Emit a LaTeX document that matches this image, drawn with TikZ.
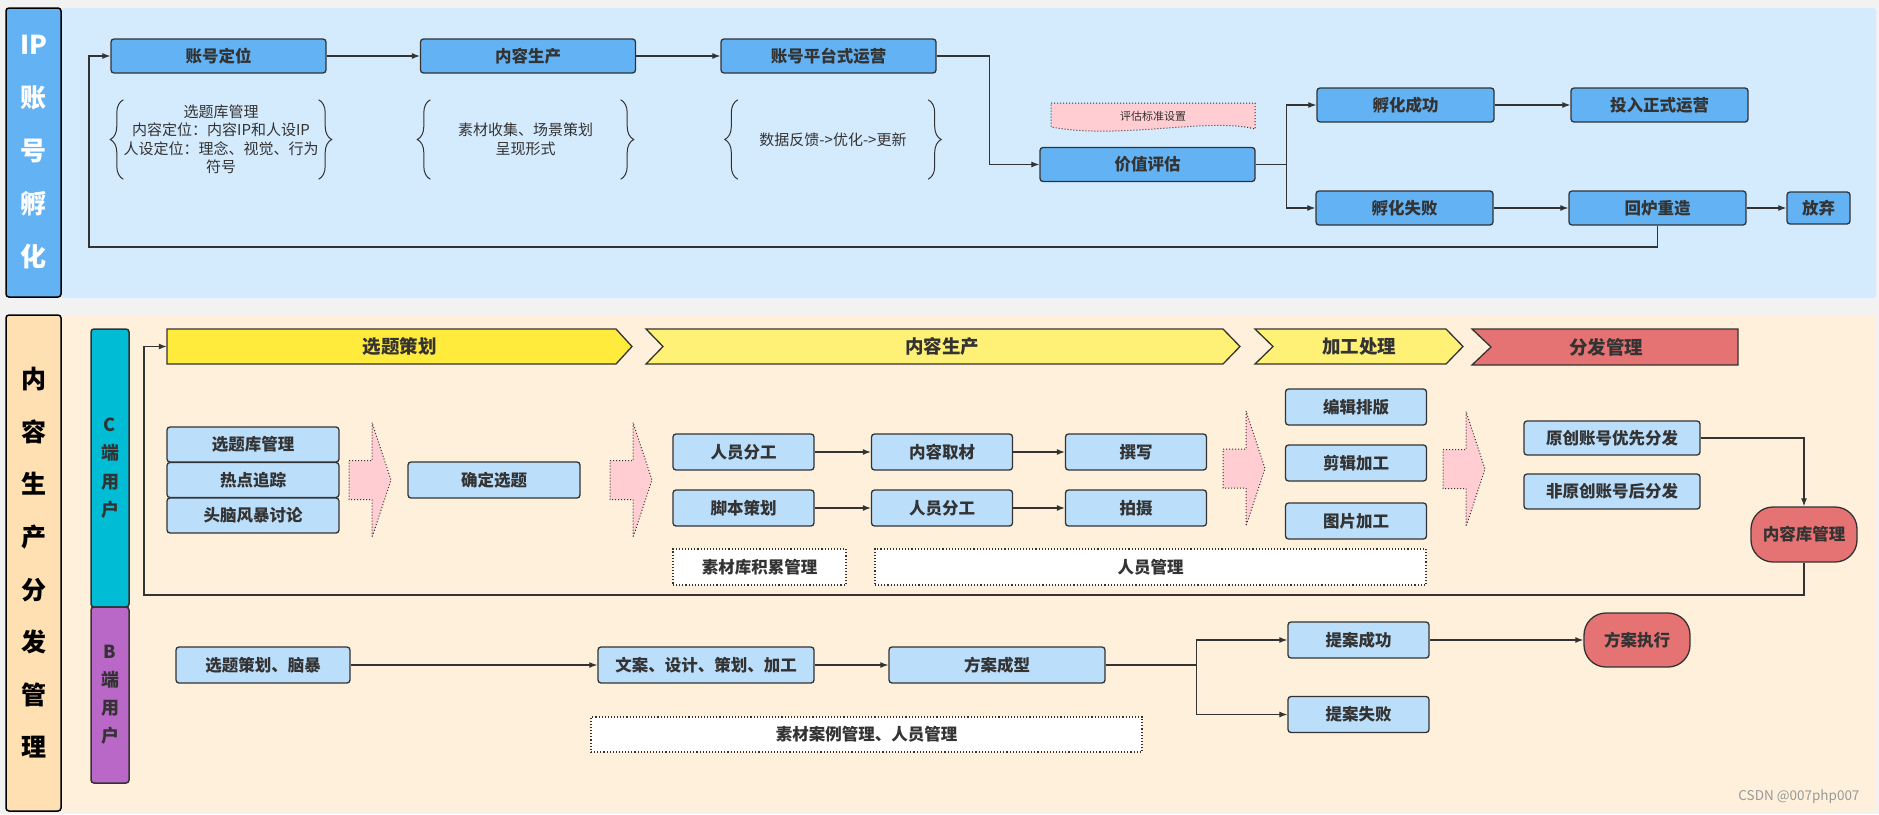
\documentclass[tikz,border=0pt]{standalone}
\usepackage{fontspec}
\setmainfont{Noto Sans CJK SC}
\usetikzlibrary{arrows.meta, decorations.pathreplacing}

\definecolor{pagebg}{HTML}{F2F2F2}
\definecolor{ippanel}{HTML}{D4EAFD}
\definecolor{ipblue}{HTML}{63B3F4}
\definecolor{nrpanel}{HTML}{FFF0DB}
\definecolor{nrlabel}{HTML}{FFE0B2}
\definecolor{boxblue}{HTML}{BBDEFB}
\definecolor{cteal}{HTML}{00BCD4}
\definecolor{bpurple}{HTML}{BA68C8}
\definecolor{yelA}{HTML}{FFEB3B}
\definecolor{yelB}{HTML}{FFF176}
\definecolor{redfill}{HTML}{E57373}
\definecolor{pinkfill}{HTML}{FFCDD2}
\definecolor{txt}{HTML}{333333}
\definecolor{edge}{HTML}{333333}

\tikzset{
    every node/.style={text=txt},
    ipbox/.style={draw=edge, line width=1.3pt, fill=ipblue, rounded corners=3pt, inner sep=0pt,
        minimum width=215pt, minimum height=34pt, font=\bfseries\fontsize{16.5}{18}\selectfont},
    cbox/.style={draw=edge, line width=1.3pt, fill=boxblue, rounded corners=3pt, inner sep=0pt,
        minimum width=141pt, minimum height=36pt, font=\bfseries\fontsize{16.5}{18}\selectfont},
    dotbox/.style={draw=edge, dotted, line width=1.1pt, fill=white, inner sep=0pt,
        minimum height=36pt, font=\bfseries\fontsize{16.5}{18}\selectfont},
    redbox/.style={draw=edge, line width=1.3pt, fill=redfill, rounded corners=22pt, inner sep=0pt,
        minimum width=106pt, minimum height=55pt, font=\bfseries\fontsize{16.5}{18}\selectfont},
    bracetxt/.style={align=center, inner sep=0pt, minimum width=190pt, minimum height=79pt,
        font=\fontsize{15}{18.5}\selectfont},
    curly/.style={draw=edge, line width=1pt, decorate, decoration={brace, amplitude=13pt}},
    flow/.style={draw=edge, line width=1.2pt, -{Latex[length=8pt, width=6pt]}},
    banner/.style={draw=edge, line width=1.3pt},
    bannertxt/.style={inner sep=0pt, minimum height=35pt, font=\bfseries\fontsize{18.5}{20}\selectfont},
    pinkarrow/.style={draw=edge, dotted, line width=1pt, fill=pinkfill},
    sidelabel/.style={draw=black, line width=1.5pt, rounded corners=3pt, inner sep=0pt, align=center},
    pics/blockarrow/.style={code={
        \draw[pinkarrow] (0,-19.5) -- (23,-19.5) -- (23,-57.5) -- (42,0) -- (23,57.5) -- (23,19.5) -- (0,19.5) -- cycle;
    }},
}

\begin{document}
\begin{tikzpicture}[x=1pt, y=-1pt]
    \useasboundingbox (0,0) rectangle (1879,814);
    \fill[pagebg] (0,0) rectangle (1879,814);
    \fill[ippanel, rounded corners=3pt] (61,8) rectangle (1876,298);
    \fill[nrpanel] (61,316) rectangle (1876,812);

    % IP账号孵化
    \node[sidelabel, fill=ipblue, minimum width=55pt, minimum height=289pt, text=white,
        font=\bfseries\fontsize{26}{53}\selectfont] (iplab) at (33.5,152.5) {IP\\账\\号\\孵\\化};

    \node[ipbox] (zhdw) at (218.5,56) {账号定位};
    \node[ipbox] (nrsc) at (528,56) {内容生产};
    \node[ipbox] (ptyy) at (828.5,56) {账号平台式运营};
    \node[ipbox] (jzpg) at (1147.5,164.5) {价值评估};
    \node[ipbox, minimum width=177pt] (fhcg) at (1405.5,105) {孵化成功};
    \node[ipbox, minimum width=177pt] (trzs) at (1659.5,105) {投入正式运营};
    \node[ipbox, minimum width=177pt] (fhsb) at (1404.5,208) {孵化失败};
    \node[ipbox, minimum width=177pt] (hlcz) at (1657.5,208) {回炉重造};
    \node[ipbox, minimum width=63pt, minimum height=32pt] (fq) at (1818.5,208) {放弃};

    \node[bracetxt] (dwtxt) at (221,139.5) {选题库管理\\内容定位：内容IP和人设IP\\人设定位：理念、视觉、行为\\符号};
    \node[bracetxt] (sctxt) at (525.5,139.5) {素材收集、场景策划\\呈现形式};
    \node[bracetxt] (yytxt) at (833,139.5) {数据反馈->优化->更新};
    \foreach \t in {dwtxt,sctxt,yytxt} {
        \draw[curly] (\t.south west) -- (\t.north west);
        \draw[curly] (\t.north east) -- (\t.south east);
    }

    \draw[pinkarrow] (1051,103) -- (1255,103) -- (1255,129) .. controls (1210,117) and (1120,140) .. (1051,127) -- cycle;
    \node[font=\fontsize{11}{13}\selectfont] (pgbz) at (1153,116) {评估标准设置};

    \draw[flow] (zhdw.east) -- (nrsc.west);
    \draw[flow] (nrsc.east) -- (ptyy.west);
    \draw[flow] (ptyy.east) -- ++(53,0) |- (jzpg.west);
    \draw[flow] (jzpg.east) -- ++(31,0) |- (fhcg.west);
    \draw[flow] (jzpg.east) -- ++(31,0) |- (fhsb.west);
    \draw[flow] (fhcg.east) -- (trzs.west);
    \draw[flow] (fhsb.east) -- (hlcz.west);
    \draw[flow] (hlcz.east) -- (fq.west);
    \coordinate (ipback) at (89,247);
    \draw[flow] (hlcz.south) |- (ipback) |- (zhdw.west);

    % 内容生产分发管理
    \node[sidelabel, fill=nrlabel, minimum width=55pt, minimum height=496pt, text=black,
        font=\bfseries\fontsize{25}{52.6}\selectfont] (nrlab) at (33.5,563) {内\\容\\生\\产\\分\\发\\管\\理};
    \node[sidelabel, draw=edge, fill=cteal, minimum width=38pt, minimum height=278pt,
        font=\bfseries\fontsize{18}{28.3}\selectfont] (cuser) at (110,468) {C\\端\\用\\户};
    \node[sidelabel, draw=edge, fill=bpurple, minimum width=38pt, minimum height=176pt,
        font=\bfseries\fontsize{18}{28}\selectfont] (buser) at (110,695) {B\\端\\用\\户};

    \draw[banner, fill=yelA] (167,329) -- (616,329) -- (632,346.5) -- (616,364) -- (167,364) -- cycle;
    \node[bannertxt, minimum width=465pt] (xtch) at (399.5,346.5) {选题策划};
    \draw[banner, fill=yelB] (646,329) -- (1223,329) -- (1240,346.5) -- (1223,364) -- (646,364) -- (663,346.5) -- cycle;
    \node[bannertxt] (nrscb) at (942,346.5) {内容生产};
    \draw[banner, fill=yelB] (1255,329) -- (1446,329) -- (1463,346.5) -- (1446,364) -- (1255,364) -- (1273,346.5) -- cycle;
    \node[bannertxt] (jgcl) at (1359,346.5) {加工处理};
    \draw[banner, fill=redfill] (1472,329) -- (1738,329) -- (1738,365) -- (1472,365) -- (1491,347) -- cycle;
    \node[bannertxt] (ffgl) at (1606,347) {分发管理};

    \node[cbox, minimum width=172pt, minimum height=35pt] (xtk) at (253,444.5) {选题库管理};
    \node[cbox, minimum width=172pt, minimum height=35pt] (rdzz) at (253,480) {热点追踪};
    \node[cbox, minimum width=172pt, minimum height=35pt] (tnfb) at (253,515.5) {头脑风暴讨论};
    \pic at (349,480) {blockarrow};
    \node[cbox, minimum width=172pt] (qdxt) at (494,480) {确定选题};
    \pic at (610,480) {blockarrow};

    \node[cbox] (ryfg) at (743.5,452) {人员分工};
    \node[cbox] (nrqc) at (942,452) {内容取材};
    \node[cbox] (zx) at (1136,452) {撰写};
    \node[cbox] (jbch) at (743.5,508) {脚本策划};
    \node[cbox] (ryfgb) at (942,508) {人员分工};
    \node[cbox] (ps) at (1136,508) {拍摄};
    \draw[flow] (ryfg.east) -- (nrqc.west);
    \draw[flow] (nrqc.east) -- (zx.west);
    \draw[flow] (jbch.east) -- (ryfgb.west);
    \draw[flow] (ryfgb.east) -- (ps.west);
    \node[dotbox, minimum width=173pt] (sckj) at (759.5,567) {素材库积累管理};
    \node[dotbox, minimum width=551pt] (rygl) at (1150.5,567) {人员管理};

    \pic at (1223,468.5) {blockarrow};
    \node[cbox] (bjpb) at (1356,407) {编辑排版};
    \node[cbox] (jjjg) at (1356,463) {剪辑加工};
    \node[cbox] (tpjg) at (1356,521) {图片加工};
    \pic at (1443,469) {blockarrow};

    \node[cbox, minimum width=176pt, minimum height=34pt] (ycff) at (1612,438) {原创账号优先分发};
    \node[cbox, minimum width=176pt, minimum height=35pt] (fycff) at (1612,491.5) {非原创账号后分发};
    \node[redbox] (nkgl) at (1804,534.5) {内容库管理};
    \draw[flow] (ycff.east) -| (nkgl.north);
    \coordinate (cback) at (144,595);
    \draw[flow] (nkgl.south) |- (cback) |- (xtch.west);

    % B端
    \node[cbox, minimum width=174pt] (xtnb) at (263,665) {选题策划、脑暴};
    \node[cbox, minimum width=216pt] (wasj) at (706,665) {文案、设计、策划、加工};
    \node[cbox, minimum width=216pt] (facx) at (997,665) {方案成型};
    \node[cbox] (tacg) at (1358.5,640) {提案成功};
    \node[cbox] (tasb) at (1358.5,714.5) {提案失败};
    \node[redbox, minimum height=54pt] (fazx) at (1637,640) {方案执行};
    \node[dotbox, minimum width=551pt, minimum height=35pt] (scal) at (866.5,734.5) {素材案例管理、人员管理};
    \draw[flow] (xtnb.east) -- (wasj.west);
    \draw[flow] (wasj.east) -- (facx.west);
    \draw[flow] (facx.east) -- ++(91,0) |- (tacg.west);
    \draw[flow] (facx.east) -- ++(91,0) |- (tasb.west);
    \draw[flow] (tacg.east) -- (fazx.west);

    \node[text=black!40, font=\fontsize{13.5}{15}\selectfont, anchor=east] (wm) at (1863,797) {CSDN @007php007};
\end{tikzpicture}
\end{document}
